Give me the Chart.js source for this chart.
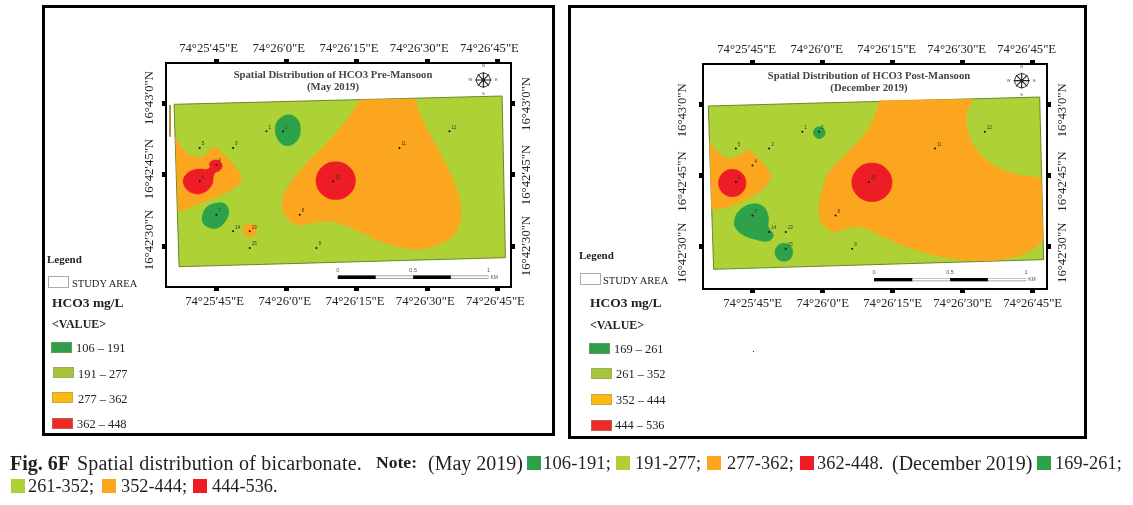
<!DOCTYPE html>
<html><head><meta charset="utf-8">
<script src="https://cdn.jsdelivr.net/npm/chart.js@4/dist/chart.umd.min.js"></script>
<style>
html,body{margin:0;padding:0;background:#fff;width:1133px;height:505px;overflow:hidden}
canvas{position:absolute;left:0;top:0}
.f{position:absolute;border:3px solid #000;box-sizing:border-box}
.t{position:absolute;font-family:"Liberation Serif",serif;color:#222;white-space:nowrap;line-height:1;transform:translateY(-50%)}
.b{font-weight:bold}
.s{position:absolute;box-sizing:border-box}
.cap{position:absolute;font-family:"Liberation Serif",serif;color:#231f20;white-space:nowrap;line-height:1;transform:translateY(-50%)}
.mt{position:absolute;font-family:"Liberation Serif",serif;font-weight:bold;font-size:10.7px;color:#444;white-space:nowrap;transform:translate(-50%,-50%);line-height:1}
</style></head><body>
<div class="f" style="left:42px;top:5px;width:513px;height:431px"></div>
<div class="f" style="left:568px;top:5px;width:519px;height:434px"></div>
<canvas id="pre" width="1133" height="505"></canvas>
<canvas id="post" width="1133" height="505"></canvas>
<div id="overlay"></div>
<script>
// Shared tick values and labels (arc-seconds past 74°25' E and 16°42' N)
const lonTicks=[45,60,75,90,105];
const lonTickLabels=['74°25′45"E','74°26′0"E','74°26′15"E','74°26′30"E','74°26′45"E'];
const latTicks=[30,45,60];
const latTickLabels=['16°42′30"N','16°42′45"N','16°43′0"N'];
// Sampling wells 1-15
const sampleIds=['1','2','3','4','5','6','7','8','9','10','11','12','13','14','15'];
const sampleLon=[55.65,59.21,48.53,44.96,41.4,41.4,44.96,62.77,66.33,69.89,84.07,94.75,52.09,48.53,52.09];
const sampleLat=[54.23,54.23,50.7,47.11,50.7,43.66,36.62,36.62,29.58,43.66,50.7,54.23,33.1,33.1,29.58];
// Classes
const preClasses=['106 – 191','191 – 277','277 – 362','362 – 448'];
const postClasses=['169 – 261','261 – 352','352 – 444','444 – 536'];
// Pre-monsoon outlines [lon,lat]
const preArea=[[35.92,59.93],[106,61.69],[106.71,27.54],[36.99,25.63]];
const preOrangeWest=[[36.27,52.96],[37.56,50.63],[39.69,49.01],[42.19,49.01],[44.32,50.77],[46.1,49.72],[48.6,47.11],[50.23,44.65],[49.31,42.68],[45.75,40.77],[41.47,39.01],[36.84,37.25]];
const preOrangeEast=[[75.8,60.85],[87.41,61.06],[88.48,57.68],[90.98,52.75],[93.47,48.17],[96.32,41.83],[97.17,37.25],[95.96,32.68],[92.04,30.21],[87.06,29.37],[81.36,30.56],[75.66,33.03],[69.96,35.14],[65.69,34.93],[62.13,34.58],[59.64,36.55],[59.07,39.72],[60.35,42.54],[63.55,46.76],[67.83,50.99],[72.81,56.62]];
const preOrangeSmall=[[50.74,33.31],[51.17,34.3],[52.16,34.72],[53.16,34.3],[53.58,33.31],[53.16,32.3],[52.16,31.9],[51.17,32.3]];
const preRedWest=[[37.91,43.59],[38.41,45],[39.69,45.92],[41.47,46.27],[42.9,46.2],[43.61,46.62],[43.47,47.32],[43.97,47.96],[45.04,48.17],[45.96,47.61],[46.18,46.76],[45.6,45.92],[44.68,45.49],[44.32,44.65],[44.11,43.24],[43.26,41.97],[41.83,41.13],[40.05,41.13],[38.63,41.97]];
const preRedEast=[[66.26,43.8],[67.49,46.63],[70.46,47.8],[73.43,46.63],[74.66,43.8],[73.43,40.97],[70.46,39.8],[67.49,40.97]];
const preGreenSouth=[[41.97,36.06],[42.69,37.96],[44.68,39.01],[46.82,38.87],[47.6,37.25],[46.82,35.14],[45.04,33.73],[43.26,33.94],[42.19,34.79]];
const preGreenNorth=[[57.57,54.51],[58.21,56.62],[60.35,57.75],[62.27,56.76],[62.91,54.65],[62.27,52.39],[60.35,51.2],[58.43,52.04]];
// Post-monsoon outlines [lon,lat]
const postArea=[[35.5,59.65],[106.5,61.54],[107.36,27.3],[36.64,25.26]];
const postOrangeWest=[[35.79,52.14],[37.29,50.04],[39.79,48.63],[42.29,49.33],[44.07,50.25],[46.57,48.28],[48.5,45.82],[48.93,44.77],[47.29,42.32],[44.07,40.21],[39.79,38.46],[36.21,37.96]];
const postOrangeEast=[[72.29,60.77],[92.07,61.05],[90.86,58.11],[90.86,55.3],[92.29,51.44],[95.5,47.93],[100.5,45.47],[106.79,44.42],[107.21,31.44],[104.79,29.33],[99.79,27.58],[92.64,27.09],[85.5,27.93],[79.07,29.68],[72.64,32.28],[68.36,34.25],[65.14,33.9],[62.64,33.19],[60.14,34.6],[59.21,37.4],[59.79,41.26],[61.21,45.47],[64.07,48.63],[68,52.49],[70.5,56]];
const postRedWest=[[37.71,43.44],[38.57,45.48],[40.64,46.32],[42.71,45.48],[43.57,43.44],[42.71,41.4],[40.64,40.56],[38.57,41.4]];
const postRedEast=[[66.27,43.58],[67.53,46.46],[70.57,47.65],[73.61,46.46],[74.87,43.58],[73.61,40.7],[70.57,39.51],[67.53,40.7]];
const postGreenNorth=[[58.04,54.04],[58.41,54.92],[59.29,55.29],[60.17,54.92],[60.54,54.04],[60.17,53.16],[59.29,52.79],[58.41,53.16]];
const postGreenSouth=[[49.81,28.84],[50.36,30.19],[51.71,30.74],[53.06,30.19],[53.61,28.84],[53.06,27.49],[51.71,26.94],[50.36,27.49]];
const postGreenWest=[[41.07,35.09],[41.93,37.4],[44.79,39.02],[47.29,38.46],[48.36,36.35],[48.36,34.25],[49.43,32.49],[48.36,31.23],[45.5,31.58],[42.64,32.7],[41.43,33.9]];
// Scale bar stops along one latitude, labels in km
const preBarLon=[70.9,79,87,95.04,103.08];
const postBarLon=[71,79.2,87.3,95.4,103.6];
const barLabels=['0','0.5','1'];

const C={dark:'#2ea24a',light:'#aed136',orange:'#fba61e',red:'#ee1c25'};
function ring(p){const q=p.map(a=>({x:a[0],y:a[1]}));return [q[q.length-1],...q,q[0],q[1]];}
function zone(p,c){return {type:'line',data:ring(p),fill:'shape',backgroundColor:c,borderColor:c,borderWidth:0.6,pointRadius:0,tension:0.4};}
function edgeZone(p,c,sharp){const q=[];p.forEach((a,i)=>{const o={x:a[0],y:a[1]};q.push(o);if(sharp.includes(i))q.push(o);});q.push(q[0]);
 return {type:'line',data:q,fill:'shape',backgroundColor:c,borderColor:c,borderWidth:0.6,pointRadius:0,tension:0.4};}
function area(p){const q=p.map(a=>({x:a[0],y:a[1]}));q.push(q[0]);return {type:'line',data:q,fill:'shape',backgroundColor:C.light,borderColor:'#5f7d22',borderWidth:0.9,pointRadius:0,tension:0};}
function seg(lons,lat,c,w){return {type:'line',data:lons.map(x=>({x,y:lat})),borderColor:c,borderWidth:w,pointRadius:0,tension:0,fill:false,borderCapStyle:'butt'};}

const textPlugin={id:'mapText',afterDatasetsDraw(ch,a,o){const g=ch.ctx;g.save();g.textAlign='left';g.textBaseline='middle';
 (o.items||[]).forEach(t=>{g.font=t.font;g.fillStyle=t.color;g.textAlign=t.align||'left';g.fillText(t.text,ch.scales.x.getPixelForValue(t.x)+(t.dx||0),ch.scales.y.getPixelForValue(t.y)+(t.dy||0));});g.restore();}};

function axisX(pos,min,max,off,pad){return {type:'linear',position:pos,min,max,
 afterBuildTicks:s=>{s.ticks=lonTicks.map(value=>({value}));},afterFit:s=>{s.height=26;},
 ticks:{autoSkip:false,maxRotation:0,minRotation:0,padding:pad,labelOffset:off,color:'#222',font:{family:'"Liberation Serif"',size:12.7},callback:v=>lonTickLabels[lonTicks.indexOf(v)]},
 grid:{display:true,drawOnChartArea:false,drawTicks:true,tickLength:4,tickWidth:5,tickColor:'#000'},border:{display:true,color:'#000',width:2}};}
function axisY(pos,min,max,off,pad){return {type:'linear',position:pos,min,max,
 afterBuildTicks:s=>{s.ticks=latTicks.map(value=>({value}));},afterFit:s=>{s.width=26;},
 ticks:{autoSkip:false,minRotation:90,maxRotation:90,crossAlign:'center',padding:pad,labelOffset:off,color:'#222',font:{family:'"Liberation Serif"',size:12.7},callback:v=>latTickLabels[latTicks.indexOf(v)]},
 grid:{display:true,drawOnChartArea:false,drawTicks:true,tickLength:4,tickWidth:5,tickColor:'#000'},border:{display:true,color:'#000',width:2}};}

function buildPanel(id,cfg){
 const barLat=cfg.barLat;
 const layers=[area(cfg.area),...cfg.layers,
  seg(cfg.bar,barLat,'#888',3.4),seg(cfg.bar,barLat,'#fff',2),
  seg(cfg.bar.slice(0,2),barLat,'#000',3.4),seg(cfg.bar.slice(2,4),barLat,'#000',3.4),
  ...(cfg.extra||[]),
  {type:'scatter',data:sampleLon.map((x,i)=>({x,y:sampleLat[i]})),pointRadius:1,pointBackgroundColor:'#111',pointBorderWidth:0,showLine:false},
  {type:'scatter',data:[cfg.rose],pointStyle:'circle',pointRadius:7,pointBackgroundColor:'rgba(255,255,255,0)',pointBorderColor:'#333',pointBorderWidth:1,showLine:false},
  {type:'scatter',data:[cfg.rose],pointStyle:'star',pointRadius:8,pointBorderColor:'#222',pointBorderWidth:1.1,showLine:false},
  {type:'scatter',data:[cfg.rose],pointStyle:'rectRot',pointRadius:2,pointBackgroundColor:'#222',pointBorderWidth:0,showLine:false}
 ];
 const items=[];
 sampleIds.forEach((s,i)=>items.push({text:s,x:sampleLon[i],y:sampleLat[i],dx:2,dy:-4,font:'4.5px "Liberation Sans"',color:'#333'}));
 barLabels.forEach((s,i)=>items.push({text:s,x:cfg.bar[i*2],y:barLat,dy:-7,font:'5.5px "Liberation Sans"',color:'#555',align:'center'}));
 items.push({text:'KM',x:cfg.bar[4],y:barLat,dx:2,font:'5px "Liberation Sans"',color:'#555'});
 [['N',0,-14],['S',0,14],['E',13,0],['W',-13,0]].forEach(r=>items.push({text:r[0],x:cfg.rose.x,y:cfg.rose.y,dx:r[1],dy:r[2],font:'4px "Liberation Sans"',color:'#444',align:'center'}));
 new Chart(document.getElementById(id),{type:'line',data:{datasets:layers.reverse()},plugins:[textPlugin],options:{
  responsive:false,animation:false,devicePixelRatio:1,
  layout:{padding:{left:cfg.box[0]-26,top:cfg.box[1]-26,right:1133-cfg.box[2]-26,bottom:505-cfg.box[3]-26}},
  plugins:{legend:{display:false},tooltip:{enabled:false},title:{display:false},mapText:{items}},
  scales:{x:axisX('bottom',cfg.lon[0],cfg.lon[1],cfg.off[0],3),x2:axisX('top',cfg.lon[0],cfg.lon[1],cfg.off[1],3),y:axisY('left',cfg.lat[0],cfg.lat[1],cfg.off[2],cfg.pad[0]),y2:axisY('right',cfg.lat[0],cfg.lat[1],cfg.off[3],cfg.pad[1])}
 }});
}
buildPanel('pre',{box:[166,63,511,287],lon:[34.2,107.9],lat:[21.34,68.66],off:[-2,-8,-6,0],pad:[-18,-18],area:preArea,bar:preBarLon,barLat:23.4,rose:{x:102,y:65.07},
 layers:[edgeZone(preOrangeWest,C.orange,[0,11]),edgeZone(preOrangeEast,C.orange,[0,1]),zone(preOrangeSmall,C.orange),zone(preRedWest,C.red),zone(preRedEast,C.red),zone(preGreenSouth,C.dark),zone(preGreenNorth,C.dark)],
 extra:[{type:'line',data:[{x:35.06,y:59.79},{x:35.06,y:53.1}],borderColor:'#a9802a',borderWidth:1,pointRadius:0,fill:false}]});
buildPanel('post',{box:[703,64,1047,289],lon:[34.36,108.07],lat:[21.12,68.49],off:[0,-6,6,6],pad:[-14,-18],area:postArea,bar:postBarLon,barLat:23.1,rose:{x:102.64,y:64.98},
 layers:[edgeZone(postOrangeWest,C.orange,[0,11]),edgeZone(postOrangeEast,C.orange,[0,1,7,8]),zone(postRedWest,C.red),zone(postRedEast,C.red),zone(postGreenNorth,C.dark),zone(postGreenSouth,C.dark),zone(postGreenWest,C.dark)]});

// Overlay texts
const ov=document.getElementById('overlay');
function T(x,y,s,sz,b){const d=document.createElement('div');d.className='t'+(b?' b':'');d.style.left=x+'px';d.style.top=y+'px';d.style.fontSize=sz+'px';d.textContent=s;ov.appendChild(d);}
function M(x,y,s){const d=document.createElement('div');d.className='mt';d.style.left=x+'px';d.style.top=y+'px';d.textContent=s;ov.appendChild(d);}
function S(x,y,w,h,c,bd){const d=document.createElement('div');d.className='s';d.style.cssText='left:'+x+'px;top:'+y+'px;width:'+w+'px;height:'+h+'px;background:'+c+';border:'+bd;ov.appendChild(d);}
M(333,74,'Spatial Distribution of HCO3 Pre-Mansoon');M(333,86,'(May 2019)');
M(869,75,'Spatial Distribution of HCO3 Post-Mansoon');M(869,87,'(December 2019)');
const swC=['#2f9e4a','#a6c43a','#fdb913','#ee2a24'];
const bd='1px solid rgba(150,150,120,.5)';
T(47,259,'Legend',11,1);S(48,276,21,12,'#fff','1.5px solid #aaa');T(72,284,'STUDY AREA',10.5,0);T(52,303,'HCO3 mg/L',13.5,1);T(52,324,'<VALUE>',12,1);
[[51,342,76,348],[53,367,78,374],[52,392,78,399],[52,418,77,424]].forEach((p,i)=>{S(p[0],p[1],21,11,swC[i],bd);T(p[2],p[3],preClasses[i],12.4,0);});
T(579,255,'Legend',11,1);S(580,273,21,12,'#fff','1.5px solid #aaa');T(603,281,'STUDY AREA',10.5,0);T(590,303,'HCO3 mg/L',13.5,1);T(590,325,'<VALUE>',12,1);
[[589,343,614,349],[591,368,616,374],[591,394,616,400],[591,420,615,425]].forEach((p,i)=>{S(p[0],p[1],21,11,swC[i],bd);T(p[2],p[3],postClasses[i],12.4,0);});
S(753,351,1,1,'#333','none');
// Caption pieces: [x, text, bold, letter spacing, size]; swatches: [x, colour]
function capText(y,x,s,b,ls,sz){const d=document.createElement('div');d.className='cap';d.style.top=y+'px';d.style.left=x+'px';d.style.fontSize=sz+'px';if(b)d.style.fontWeight='bold';if(ls)d.style.letterSpacing=ls+'px';d.textContent=s;ov.appendChild(d);}
function capSw(y,x,c){S(x,y-7,13.5,13.5,C[c],'none');}
[[10,'Fig. 6F',1,0,20],[77,'Spatial distribution of bicarbonate.',0,.2,20],[376,'Note:',1,0,17.6],[428,'(May 2019)',0,0,20],[543,'106-191;',0,.1,18.6],[635,'191-277;',0,0,18.3],[727,'277-362;',0,.1,18.3],[817,'362-448.',0,.1,18.3],[892,'(December 2019)',0,0,20],[1055,'169-261;',0,.1,18.3]].forEach(p=>capText(463,p[0],p[1],p[2],p[3],p[4]));
[[527,'dark'],[616,'light'],[707,'orange'],[800,'red'],[1037,'dark']].forEach(p=>capSw(463,p[0],p[1]));
[[28,'261-352;'],[121,'352-444;'],[212,'444-536.']].forEach(p=>capText(486,p[0],p[1],0,0,18.3));
[[11,'light'],[102,'orange'],[193,'red']].forEach(p=>capSw(486,p[0],p[1]));
</script></body></html>
